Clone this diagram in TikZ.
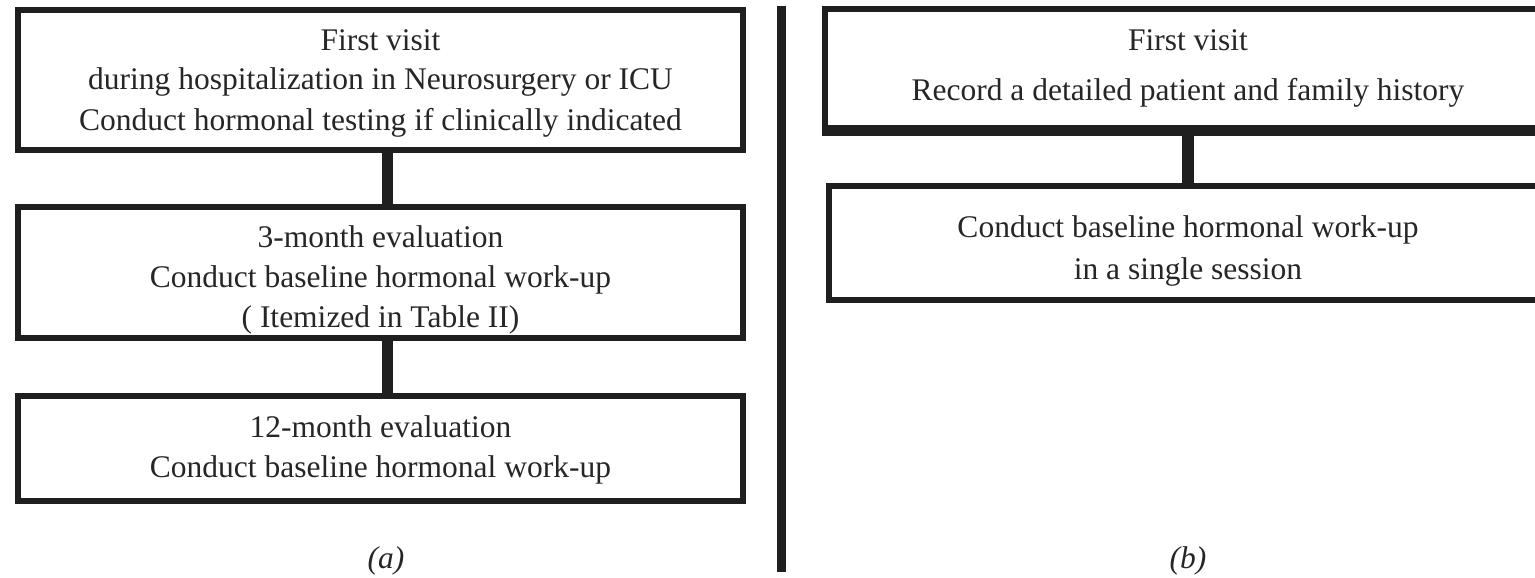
\documentclass[tikz,border=0pt]{standalone}
\usepackage{fontspec}
\setmainfont{Liberation Serif}
% rule[raise]{w}{h}: spans from raise to raise+h
\newcommand{\ls}{\rule[-9pt]{0pt}{40pt}}
\begin{document}
\begin{tikzpicture}[x=1pt,y=-1pt,
  box/.style={draw=black!88, line width=6pt, inner sep=0pt, align=center,
    font=\fontsize{31.5}{40}\selectfont, text=black!85},
  link/.style={draw=black!88, line width=11.5pt},
  sublabel/.style={font=\fontsize{31.5}{38}\selectfont\itshape, text=black!85, inner sep=0pt}]
\useasboundingbox (0,0) rectangle (1535,578);
\clip (0,0) rectangle (1535,578);
% (a)
\node[box, minimum width=725pt, minimum height=140pt] (A1) at (380.5,80)
  {\ls First visit\\\ls during hospitalization in Neurosurgery or ICU\\\rule[-11pt]{0pt}{42pt}Conduct hormonal testing if clinically indicated};
\node[box, minimum width=725pt, minimum height=131pt] (A2) at (380.5,272.5)
  {\rule[-9pt]{0pt}{47pt}3-month evaluation\\\ls Conduct baseline hormonal work-up\\\ls ( Itemized in Table II)};
\node[box, minimum width=725pt, minimum height=105pt] (A3) at (380.5,448.5)
  {\ls 12-month evaluation\\\rule[-14pt]{0pt}{45pt}Conduct baseline hormonal work-up};
\draw[link] ([xshift=7pt]A1.south) -- ([xshift=7pt]A2.north);
\draw[link] ([xshift=7pt]A2.south) -- ([xshift=7pt]A3.north);
\node[sublabel] (la) at (386,561) {(a)};
% divider
\coordinate (d1) at (781.5,6);
\coordinate (d2) at (781.5,572);
\draw[draw=black!88, line width=9pt] (d1) -- (d2);
% (b)
\node[box, minimum width=726pt, minimum height=119pt] (B1) at (1188,68.5)
  {\ls First visit\\[10pt]\rule[-18pt]{0pt}{49pt}Record a detailed patient and family history};
\draw[draw=black!88, line width=10pt] (B1.south west) -- (B1.south east);
\node[box, minimum width=718pt, minimum height=114pt] (B2) at (1188,243)
  {\rule[-9pt]{0pt}{48pt}Conduct baseline hormonal work-up\\[2pt]\ls in a single session};
\draw[link, line width=12pt] (B1.south) -- (B2.north);
\node[sublabel] (lb) at (1188,561) {(b)};
\end{tikzpicture}
\end{document}
